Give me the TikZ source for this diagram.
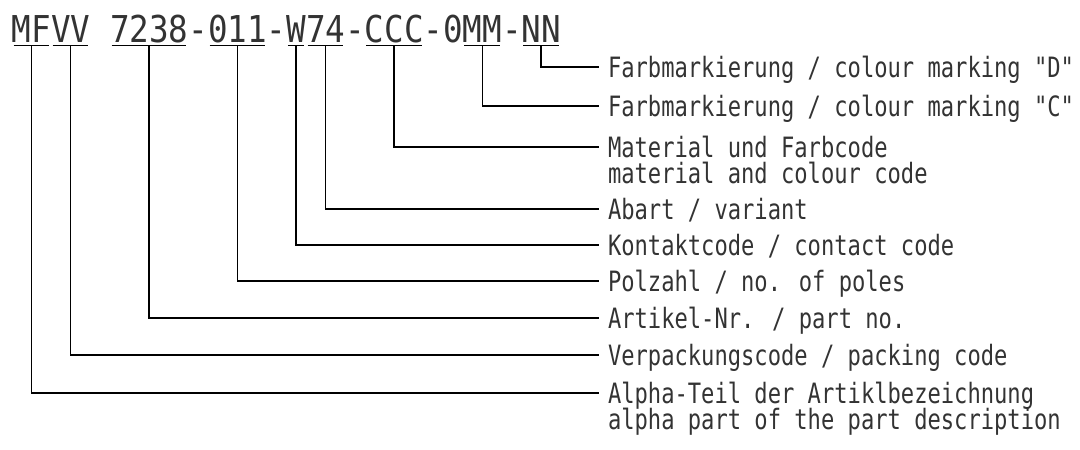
\documentclass[tikz,border=0pt]{standalone}
\usepackage{fontspec}
\usetikzlibrary{calc}
\newfontfamily\titlefont{DejaVu Sans Mono}[FakeStretch=0.88]
\newfontfamily\labfont{DejaVu Sans Mono}[FakeStretch=0.79]
\begin{document}
\begin{tikzpicture}[x=1pt,y=-1pt,
  ttl/.style={inner sep=0pt,outer sep=0pt,anchor=base west,text=black!80,font=\titlefont\fontsize{37}{44}\selectfont},
  lab/.style={inner sep=0pt,outer sep=0pt,anchor=base west,text=black!80,font=\labfont\fontsize{28}{30}\selectfont},
  conn/.style={line width=1.1pt,black},
  uline/.style={line width=1.1pt,black}]
\useasboundingbox (0,0) rectangle (1080,450);
% title pieces
\node[ttl] (MF) at (12,42) {MF};
\node[ttl] (VV) at (MF.base east) {VV};
\node[ttl] (s1) at (VV.base east) {\phantom{0}};
\node[ttl] (P) at (s1.base east) {7238};
\node[ttl] (d1) at (P.base east) {-};
\node[ttl] (Z) at (d1.base east) {011};
\node[ttl] (d2) at (Z.base east) {-};
\node[ttl] (W) at (d2.base east) {W};
\node[ttl] (A) at (W.base east) {74};
\node[ttl] (d3) at (A.base east) {-};
\node[ttl] (CCC) at (d3.base east) {CCC};
\node[ttl] (d4) at (CCC.base east) {-0};
\node[ttl] (MM) at (d4.base east) {MM};
\node[ttl] (d5) at (MM.base east) {-};
\node[ttl] (NN) at (d5.base east) {NN};
% underlines
\foreach \n in {MF,VV,P,Z,W,A,CCC,MM,NN}{
  \coordinate (\n-l) at ([xshift=1.5pt,yshift=-3.5pt]\n.base west);
  \coordinate (\n-r) at ([xshift=-2pt,yshift=-3.5pt]\n.base east);
  \coordinate (\n-m) at ($(\n-l)!0.5!(\n-r)$);
  \draw[uline] (\n-l) -- (\n-r);
}
% line ends
\coordinate (eD) at (599,67);
\coordinate (eC) at (599,106);
\coordinate (eMat) at (599,147);
\coordinate (eAb) at (599,209);
\coordinate (eKo) at (599,245);
\coordinate (ePo) at (599,281);
\coordinate (eAr) at (599,318);
\coordinate (eVe) at (599,355);
\coordinate (eAl) at (599,393);
% labels
\node[lab] (tD) at ([xshift=9pt,yshift=-10pt]eD) {Farbmarkierung / colour marking "D"};
\node[lab] (tC) at ([xshift=9pt,yshift=-10pt]eC) {Farbmarkierung / colour marking "C"};
\node[lab] (tMat) at ([xshift=9pt,yshift=-10pt]eMat) {Material und Farbcode};
\node[lab] (tMat2) at ([yshift=-26pt]tMat.base west) {material and colour code};
\node[lab] (tAb) at ([xshift=9pt,yshift=-10pt]eAb) {Abart / variant};
\node[lab] (tKo) at ([xshift=9pt,yshift=-10pt]eKo) {Kontaktcode / contact code};
\node[lab] (tPo) at ([xshift=9pt,yshift=-10pt]ePo) {Polzahl / no. of poles};
\node[lab] (tAr) at ([xshift=9pt,yshift=-10pt]eAr) {Artikel-Nr. / part no.};
\node[lab] (tVe) at ([xshift=9pt,yshift=-10pt]eVe) {Verpackungscode / packing code};
\node[lab] (tAl) at ([xshift=9pt,yshift=-10pt]eAl) {Alpha-Teil der Artiklbezeichnung};
\node[lab] (tAl2) at ([yshift=-26pt]tAl.base west) {alpha part of the part description};
% connectors
\foreach \n/\e in {NN/eD,MM/eC,CCC/eMat,A/eAb,W/eKo,Z/ePo,P/eAr,VV/eVe,MF/eAl}{
  \draw[conn] (\n-m) -- (\n-m |- \e) -- (\e);
}
\end{tikzpicture}
\end{document}
